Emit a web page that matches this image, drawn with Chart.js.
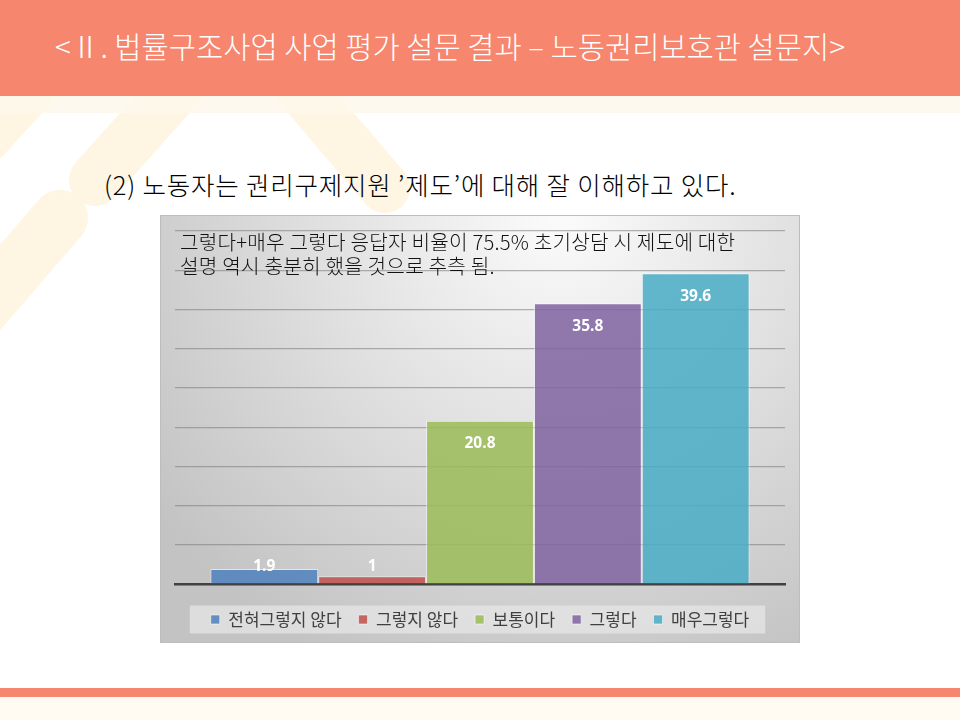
<!DOCTYPE html>
<html>
<head>
<meta charset="utf-8">
<script src="https://cdn.jsdelivr.net/npm/chart.js@4/dist/chart.umd.min.js"></script>
<style>
  html, body { margin:0; padding:0; width:960px; height:720px; overflow:hidden; background:#ffffff; font-family:"Noto Sans CJK KR","Noto Sans",sans-serif; }
  #page { position:relative; width:960px; height:720px; }
  #deco { position:absolute; left:0; top:0; }
  #header { position:absolute; left:0; top:0; width:960px; height:96px; background:#F6866D; }
  #cream1 { position:absolute; left:0; top:96px; width:960px; height:17px; background:#FEF8EC; opacity:0.9; }
  #title { position:absolute; left:55px; top:27px; color:#ffffff; font-size:29.6px; line-height:38px; white-space:nowrap; font-weight:300; }
  #subtitle { position:absolute; left:104px; top:167px; color:#000; font-size:25.5px; line-height:34px; white-space:nowrap; letter-spacing:0.8px; font-weight:300; }
  #chartbox { position:absolute; left:160px; top:215px; width:640px; height:428px; }
  #note { position:absolute; left:180px; top:230px; color:#111; font-size:20.2px; line-height:24px; white-space:nowrap; letter-spacing:0.2px; font-weight:300; }
  #bottomstripe { position:absolute; left:0; top:688px; width:960px; height:9px; background:#F6866D; }
  #bottomcream { position:absolute; left:0; top:697px; width:960px; height:23px; background:#FFFBF2; }
</style>
</head>
<body>
<div id="page">
  <svg id="deco" width="960" height="720">
    <g stroke="#FEF5E2" stroke-linecap="round" fill="none">
      <line x1="95" y1="180" x2="220" y2="40" stroke-width="52"/>
      <line x1="60" y1="218" x2="-80" y2="380" stroke-width="56"/>
      <line x1="50" y1="60" x2="-60" y2="180" stroke-width="60"/>
      <line x1="385" y1="188" x2="250" y2="30" stroke-width="50"/>
    </g>
  </svg>
  <div id="header"></div>
  <div id="cream1"></div>
  <div id="title">&lt;Ⅱ. 법률구조사업 사업 평가 설문 결과 – 노동권리보호관 설문지&gt;</div>
  <div id="subtitle">(2) 노동자는 권리구제지원 ’제도’에 대해 잘 이해하고 있다.</div>
  <div id="chartbox"><canvas id="c" width="640" height="428"></canvas></div>
  <div id="note">그렇다+매우 그렇다 응답자 비율이 75.5% 초기상담 시 제도에 대한<br>설명 역시 충분히 했을 것으로 추측 됨.</div>
  <div id="bottomstripe"></div>
  <div id="bottomcream"></div>
</div>
<script>
// ---- data ----
const categories = ['전혀그렇지 않다', '그렇지 않다', '보통이다', '그렇다', '매우그렇다'];
const values = [1.9, 1, 20.8, 35.8, 39.6];
const yMin = 0;
const yMax = 45;
const yStep = 5;
const seriesColors = ['rgba(79,129,189,0.86)', 'rgba(192,80,77,0.86)', 'rgba(155,187,89,0.86)', 'rgba(128,100,162,0.86)', 'rgba(75,172,198,0.86)'];

const bgPlugin = {
  id: 'bgPlugin',
  beforeDraw(chart) {
    const ctx = chart.ctx;
    const w = chart.width, h = chart.height;
    ctx.save();
    const g = ctx.createRadialGradient(400, 0, 0, 400, 0, 500);
    g.addColorStop(0, '#fbfbfb');
    g.addColorStop(0.45, '#e2e2e2');
    g.addColorStop(1, '#c3c3c3');
    ctx.fillStyle = g;
    ctx.fillRect(0, 0, w, h);
    ctx.strokeStyle = '#bdbdbd';
    ctx.lineWidth = 1;
    ctx.strokeRect(0.5, 0.5, w - 1, h - 1);
    // legend backdrop
    const lg = chart.legend;
    if (lg && lg.legendHitBoxes && lg.legendHitBoxes.length) {
      const hb = lg.legendHitBoxes;
      let l = Infinity, r = -Infinity, t = Infinity, b = -Infinity;
      hb.forEach(x => { l = Math.min(l, x.left); r = Math.max(r, x.left + x.width); t = Math.min(t, x.top); b = Math.max(b, x.top + x.height); });
      const cy = (t + b) / 2;
      ctx.fillStyle = 'rgba(230,230,230,0.75)';
      ctx.fillRect(l - 21, cy - 14, (r - l) + 37, 28);
    }
    ctx.restore();
  }
};

const labelPlugin = {
  id: 'labelPlugin',
  afterDatasetsDraw(chart) {
    const ctx = chart.ctx;
    ctx.save();
    ctx.fillStyle = '#ffffff';
    ctx.font = 'bold 15.5px "Open Sans", "Liberation Sans", sans-serif';
    ctx.textAlign = 'center';
    ctx.textBaseline = 'middle';
    chart.data.datasets.forEach((ds, i) => {
      const meta = chart.getDatasetMeta(i);
      const bar = meta.data[0];
      if (!bar) return;
      const y = Math.min(bar.y + 23, bar.base - 17);
      ctx.fillText(String(ds.data[0]), bar.x, y);
    });
    ctx.restore();
  }
};

const datasets = categories.map((name, i) => ({
  label: name,
  data: [values[i]],
  backgroundColor: seriesColors[i],
  borderColor: 'rgba(255,255,255,0.55)',
  borderWidth: 1,
  categoryPercentage: 0.884,
  barPercentage: 1.0
}));

new Chart(document.getElementById('c'), {
  type: 'bar',
  data: { labels: [''], datasets: datasets },
  options: {
    responsive: false,
    animation: false,
    devicePixelRatio: 1,
    layout: { padding: { left: 15, right: 15, top: 16, bottom: 5 } },
    plugins: {
      legend: {
        position: 'bottom',
        labels: {
          boxWidth: 9,
          boxHeight: 9,
          padding: 17,
          color: '#404040',
          font: { family: '"Noto Sans CJK KR", "Noto Sans", sans-serif', size: 17 }
        }
      },
      tooltip: { enabled: false },
      title: { display: false }
    },
    scales: {
      x: {
        grid: { display: false },
        ticks: { display: false },
        border: { display: true, color: '#404040', width: 2.5 },
        afterFit(s) { s.height = 10; }
      },
      y: {
        min: yMin,
        max: yMax,
        ticks: { display: false, stepSize: yStep },
        grid: { color: 'rgba(120,120,120,0.55)', lineWidth: 1.2, drawTicks: false },
        border: { display: false }
      }
    }
  },
  plugins: [bgPlugin, labelPlugin]
});
</script>
</body>
</html>
